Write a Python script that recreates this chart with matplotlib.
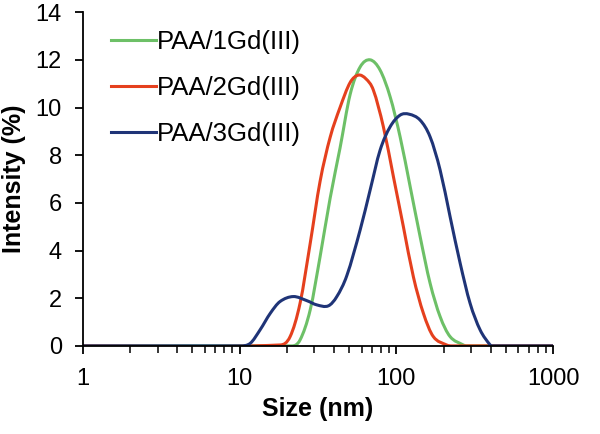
"""
plot.py
DLS intensity size distribution for PAA/Gd(III) samples.
"""

import numpy as np
import matplotlib
matplotlib.use("Agg")
import matplotlib.pyplot as plt
import matplotlib.ticker as mticker
from matplotlib.path import Path
from matplotlib.patches import PathPatch
from matplotlib.lines import Line2D

# size (nm) / intensity (%) pairs
size_1gd = [1, 21.5, 24.3, 28.2, 32.6, 37.8, 43.7, 50.7, 58.7, 68.0, 78.7,
            91.2, 105.6, 122.4, 141.7, 164, 190, 220, 267, 280, 1000]
int_1gd = [0, 0, 0.25, 1.51, 3.74, 6.2, 8.3, 10.55, 11.7, 12.0, 11.57,
           10.45, 8.77, 6.68, 4.58, 2.63, 1.23, 0.39, 0.04, 0, 0]

size_2gd = [1, 18.2, 21.0, 24.3, 28.2, 32.6, 37.8, 43.7, 50.7, 57.3, 64.0,
            71.3, 82.6, 95.7, 110.8, 128.3, 148.6, 172, 209, 226, 1000]
int_2gd = [0, 0.04, 0.39, 1.79, 4.30, 6.9, 8.75, 10.0, 11.05, 11.36, 11.2,
           10.73, 9.19, 7.10, 5.00, 2.90, 1.37, 0.39, 0.04, 0, 0]

size_3gd = [1, 10.1, 11.7, 13.5, 15.7, 18.1, 22.0, 26.8, 31.1, 36.8, 41.7,
            48.3, 58.7, 68.0, 78.7, 91.2, 105.6, 120.5, 141.7, 164, 190,
            220, 255, 295, 342, 396, 410, 1000]
int_3gd = [0, 0, 0.11, 0.67, 1.37, 1.86, 2.07, 1.90, 1.72, 1.68, 2.07,
           2.95, 4.86, 6.54, 8.21, 9.19, 9.68, 9.72, 9.47, 8.77, 7.38,
           5.42, 3.47, 1.79, 0.67, 0.04, 0, 0]

labels = ["PAA/1Gd(III)", "PAA/2Gd(III)", "PAA/3Gd(III)"]
colors = ["#6DC067", "#E5401E", "#1F3477"]

x_ticks = [1, 10, 100, 1000]
x_ticklabels = ["1", "10", "100", "1000"]
y_ticks = [0, 2, 4, 6, 8, 10, 12, 14]

plt.rcParams.update({
    "font.family": ["Liberation Sans", "DejaVu Sans"],
    "font.size": 17,
})


def smooth_path(xs, ys):
    """Smoothed line (like a spreadsheet 'smoothed line') as bezier segments,
    built in log-x space so it looks right on the log axis."""
    lx = np.log10(np.asarray(xs, float))
    y = np.asarray(ys, float)
    h = np.diff(lx)
    m = np.zeros_like(y)
    for k in range(1, len(y) - 1):
        if y[k] == 0:
            continue
        m[k] = (y[k + 1] - y[k - 1]) / (lx[k + 1] - lx[k - 1])
    verts = [(xs[0], y[0])]
    codes = [Path.MOVETO]
    for k in range(len(h)):
        c1 = (10 ** (lx[k] + h[k] / 3), y[k] + m[k] * h[k] / 3)
        c2 = (10 ** (lx[k + 1] - h[k] / 3), y[k + 1] - m[k + 1] * h[k] / 3)
        verts += [c1, c2, (xs[k + 1], y[k + 1])]
        codes += [Path.CURVE4] * 3
    return Path(verts, codes)


fig = plt.figure(figsize=(6.0, 4.34), dpi=100)
ax = fig.add_axes([0.138, 0.203, 0.784, 0.769])

handles = []
for xs, ys, lab, col in zip([size_1gd, size_2gd, size_3gd],
                            [int_1gd, int_2gd, int_3gd], labels, colors):
    ax.add_patch(PathPatch(smooth_path(xs, ys), fill=False, edgecolor=col,
                           lw=2.2, capstyle="round", joinstyle="round"))
    handles.append(Line2D([], [], color=col, lw=2.2, label=lab))

ax.set_xscale("log")
ax.set_xlim(1, 1000)
ax.set_ylim(0, 14)
ax.set_xticks(x_ticks)
ax.set_xticklabels(x_ticklabels)
ax.xaxis.set_minor_locator(mticker.LogLocator(base=10, subs=range(2, 10)))
ax.xaxis.set_minor_formatter(mticker.NullFormatter())
ax.set_yticks(y_ticks)

ax.spines["top"].set_visible(False)
ax.spines["right"].set_visible(False)
for s in ("left", "bottom"):
    ax.spines[s].set_linewidth(1.3)

ax.tick_params(axis="both", which="major", direction="out", length=6,
               width=1.3, labelsize=17)
ax.tick_params(axis="x", which="minor", direction="out", length=5, width=1.1)
ax.tick_params(axis="x", which="major", pad=10)
ax.tick_params(axis="y", which="major", pad=9)

ax.set_xlabel("Size (nm)", fontweight="bold", fontsize=18, labelpad=5)
ax.set_ylabel("Intensity (%)", fontweight="bold", fontsize=18, labelpad=7)

ax.legend(handles=handles, loc="upper left", bbox_to_anchor=(0.06, 0.946),
          frameon=False, fontsize=18.5, handlelength=1.75, handletextpad=0.02,
          labelspacing=0.86, borderpad=0, borderaxespad=0)

fig.savefig("out.png", dpi=100)
